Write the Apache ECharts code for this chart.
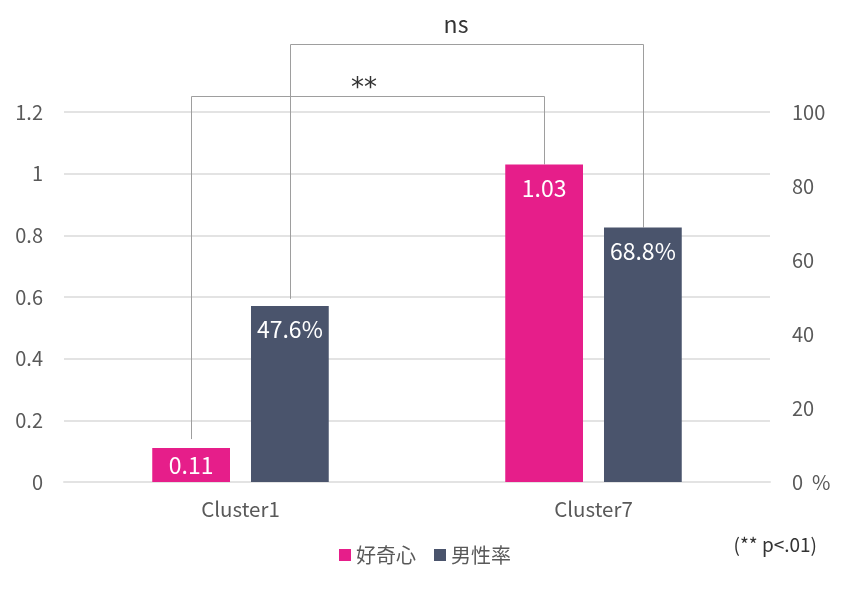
<!DOCTYPE html>
<html>
<head>
<meta charset="utf-8">
<script src="https://cdn.jsdelivr.net/npm/echarts@6/dist/echarts.min.js"></script>
<style>
html,body{margin:0;padding:0;background:#fff;}
#chart{width:850px;height:592px;}
</style>
</head>
<body>
<div id="chart"></div>
<script>
// ---- data ----
const categories = ['Cluster1', 'Cluster7'];
const curiosity = [0.11, 1.03];          // 好奇心 (left axis)
const maleRate = [47.6, 68.8];           // 男性率 % (right axis)
const seriesNames = ['好奇心', '男性率'];
const leftTicks = [0, 0.2, 0.4, 0.6, 0.8, 1, 1.2];
const rightTicks = [0, 20, 40, 60, 80, 100];
const bracketLabels = ['**', 'ns'];
const note = '(** p<.01)';

// ---- style ----
const FONT = '"Noto Sans CJK JP", "Noto Sans", sans-serif';
const PINK = '#E61E8A';
const NAVY = '#4A546C';
const TXT = '#595959';
const CAT_GAP = 0.5, BAR_GAP = 0.27;

const chart = echarts.init(document.getElementById('chart'), null, {renderer: 'canvas'});

function labelFor(v, isPct) {
  const small = isPct ? v < 15 : v < 0.18;
  return small
    ? {show: true, position: 'inside'}
    : {show: true, position: 'insideTop', distance: 12};
}

const option = {
  animation: false,
  textStyle: {fontFamily: FONT},
  grid: {left: 64, right: 80, top: 112, bottom: 110, containLabel: false},
  legend: {
    data: seriesNames,
    bottom: 22,
    left: 'center',
    icon: 'rect',
    itemWidth: 12,
    itemHeight: 12,
    itemGap: 18,
    textStyle: {fontFamily: FONT, fontSize: 20, color: TXT}
  },
  xAxis: {
    type: 'category',
    data: categories,
    axisLine: {show: true, lineStyle: {color: '#E3E3E3', width: 2}},
    axisTick: {show: false},
    axisLabel: {fontFamily: FONT, fontSize: 20.5, color: TXT, margin: 17}
  },
  yAxis: [
    {
      type: 'value', min: 0, max: 1.2, interval: 0.2,
      axisLine: {show: false}, axisTick: {show: false},
      splitLine: {lineStyle: {color: '#E3E3E3', width: 2}},
      axisLabel: {fontFamily: FONT, fontSize: 20, color: TXT, margin: 21,
        formatter: v => String(Math.round(v * 10) / 10)}
    },
    {
      type: 'value', min: 0, max: 100, interval: 20,
      position: 'right',
      axisLine: {show: false}, axisTick: {show: false},
      splitLine: {show: false},
      axisLabel: {fontFamily: FONT, fontSize: 20, color: TXT, margin: 22, align: 'left',
        formatter: v => v === 0 ? '0  %' : String(v)}
    }
  ],
  series: [
    {
      name: seriesNames[0], type: 'bar', yAxisIndex: 0,
      barCategoryGap: (CAT_GAP * 100) + '%', barGap: (BAR_GAP * 100) + '%',
      itemStyle: {color: PINK},
      label: {color: '#fff', fontFamily: FONT, fontSize: 23},
      data: curiosity.map(v => ({value: v, label: labelFor(v, false)}))
    },
    {
      name: seriesNames[1], type: 'bar', yAxisIndex: 1,
      barCategoryGap: (CAT_GAP * 100) + '%', barGap: (BAR_GAP * 100) + '%',
      itemStyle: {color: NAVY},
      label: {color: '#fff', fontFamily: FONT, fontSize: 23,
        formatter: p => p.value.toFixed(1) + '%'},
      data: maleRate.map(v => ({value: v, label: labelFor(v, true)}))
    }
  ]
};
chart.setOption(option);

// ---- significance brackets, placed from the axes' own scales ----
function drawBrackets() {
  const c0 = chart.convertToPixel({xAxisIndex: 0}, 0);
  const c1 = chart.convertToPixel({xAxisIndex: 0}, 1);
  const bw = c1 - c0;
  const barW = bw * (1 - CAT_GAP) / (2 + BAR_GAP);
  const off = (barW + barW * BAR_GAP) / 2;
  const gridTop = chart.convertToPixel({yAxisIndex: 0}, 1.2);
  function barTop(s, i) {
    const x = chart.convertToPixel({xAxisIndex: 0}, i) + (s === 0 ? -off : off);
    const y = s === 0
      ? chart.convertToPixel({yAxisIndex: 0}, curiosity[i])
      : chart.convertToPixel({yAxisIndex: 1}, maleRate[i]);
    return [x, y];
  }
  // [series index, rise above plot top px, left-leg gap, font, label lift, label shift]
  const specs = [
    [0, 16, 9, '26px "DejaVu Sans", sans-serif', -6, -4],
    [1, 68, 7, '23px ' + FONT, 9, -11]
  ];
  const elements = [];
  specs.forEach((sp, k) => {
    const a = barTop(sp[0], 0), b = barTop(sp[0], 1);
    const top = gridTop - sp[1];
    const ax = Math.round(a[0]) + 0.5, bx = Math.round(b[0]) + 0.5, ty = Math.round(top) + 0.5;
    elements.push({
      type: 'polyline', silent: true,
      shape: {points: [[ax, a[1] - sp[2]], [ax, ty], [bx, ty], [bx, b[1]]]},
      style: {stroke: '#9E9E9E', lineWidth: 1, fill: null}
    });
    elements.push({
      type: 'text', silent: true,
      x: (ax + bx) / 2 + sp[5], y: ty - sp[4],
      style: {text: bracketLabels[k], fill: '#333', font: sp[3],
        textAlign: 'center', textVerticalAlign: 'bottom'}
    });
  });
  elements.push({
    type: 'text', silent: true, right: 33, top: 535,
    style: {text: note, fill: '#333', font: '19px ' + FONT}
  });
  chart.setOption({graphic: {elements: elements}}, {replaceMerge: ['graphic']});
}
drawBrackets();
window.addEventListener('resize', () => { chart.resize(); drawBrackets(); });
</script>
</body>
</html>
